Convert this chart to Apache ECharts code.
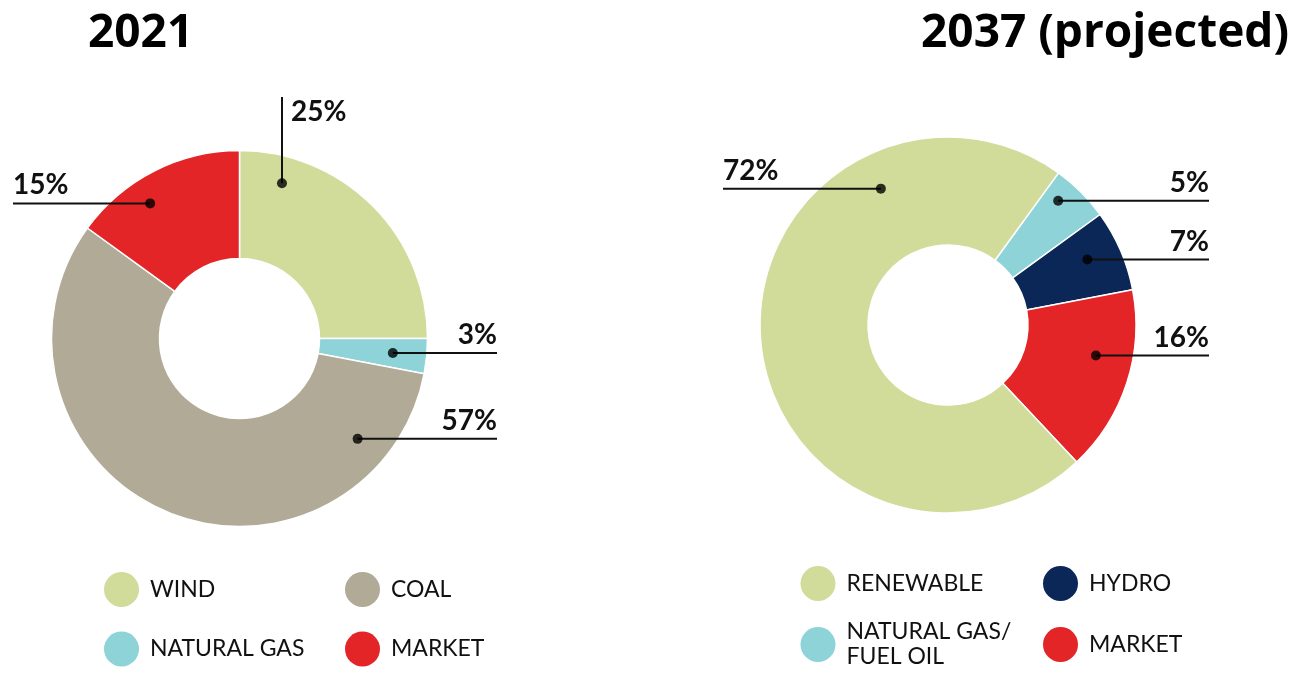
<!DOCTYPE html>
<html>
<head>
<meta charset="utf-8">
<script src="https://cdn.jsdelivr.net/npm/echarts@6/dist/echarts.min.js"></script>
<style>
html, body { margin: 0; padding: 0; background: #fff; }
#charts { width: 1293px; height: 685px; }
</style>
</head>
<body>
<div id="charts"></div>
<script>
// data
const names2021 = ['WIND', 'NATURAL GAS', 'COAL', 'MARKET']
const values2021 = [25, 3, 57, 15]
const names2037 = ['NATURAL GAS/\nFUEL OIL', 'HYDRO', 'MARKET', 'RENEWABLE']
const values2037 = [5, 7, 16, 72]
const titles = ['2021', '2037 (projected)']

const colors = {
	'WIND': '#d1dc9b',
	'RENEWABLE': '#d1dc9b',
	'COAL': '#b1aa97',
	'NATURAL GAS': '#8dd3d7',
	'NATURAL GAS/\nFUEL OIL': '#8dd3d7',
	'MARKET': '#e32527',
	'HYDRO': '#0b2757'
}

const OUTER = 188
const INNER = 80
const numFont = 'Lato'
const legendFont = 'Lato'

// where the dot sits inside each slice (share of the slice, radius) and where its line ends
const pies = [
	{
		names: names2021,
		values: values2021,
		center: [239.5, 338.5],
		startAngle: 90,
		leaders: [
			{ frac: 0.17, r: 161, endY: 97 },
			{ frac: 0.5, r: 154, endX: 497 },
			{ frac: 0.144, r: 155, endX: 497 },
			{ frac: 0.38, r: 162, endX: 13 }
		]
	},
	{
		names: names2037,
		values: values2037,
		center: [948, 325],
		startAngle: 54,
		leaders: [
			{ frac: 0.31, r: 166, endX: 1209 },
			{ frac: 0.43, r: 154, endX: 1209 },
			{ frac: 0.39, r: 151, endX: 1209 },
			{ frac: 0.76, r: 152, endX: 723 }
		]
	}
]

// legend icon centres
const legendSpots = [
	{ name: 'WIND', c: [121.5, 589.5] },
	{ name: 'COAL', c: [362.5, 589.5] },
	{ name: 'NATURAL GAS', c: [121.5, 649] },
	{ name: 'MARKET', c: [362.5, 649] },
	{ name: 'RENEWABLE', c: [818, 583.5] },
	{ name: 'HYDRO', c: [1060.5, 583.5] },
	{ name: 'NATURAL GAS/\nFUEL OIL', c: [818, 644.5] },
	{ name: 'MARKET', c: [1060.5, 644.5] }
]

const dotAngle = (p, i) => {
	let cum = 0
	for (let k = 0; k < i; k++) cum += p.values[k]
	return cum + p.leaders[i].frac * p.values[i]
}

const dotPixel = (p, i) => {
	const deg = (90 - p.startAngle) + dotAngle(p, i) * 3.6
	const rad = deg * Math.PI / 180
	const r = p.leaders[i].r
	return [p.center[0] + r * Math.sin(rad), p.center[1] - r * Math.cos(rad)]
}

const makeLayout = p => params => {
	const i = params.dataIndex
	const L = p.leaders[i]
	const [dx, dy] = dotPixel(p, i)
	if (L.endY != null) {
		return {
			x: dx + 9,
			y: L.endY + 1,
			align: 'left',
			verticalAlign: 'top',
			labelLinePoints: [[dx, dy], [dx, L.endY], [dx, L.endY]]
		}
	}
	const toRight = L.endX > dx
	return {
		x: L.endX,
		y: dy - 4,
		align: toRight ? 'right' : 'left',
		verticalAlign: 'bottom',
		labelLinePoints: [[dx, dy], [L.endX, dy], [L.endX, dy]]
	}
}

const chart = echarts.init(document.getElementById('charts'))

// coloured rings
const pieSeries = pies.map(p => ({
	type: 'pie',
	center: p.center,
	radius: [INNER, OUTER],
	startAngle: p.startAngle,
	clockwise: true,
	animation: false,
	z: 2,
	emphasis: { disabled: true },
	itemStyle: { borderColor: '#fff', borderWidth: 1.5 },
	label: { show: false },
	labelLine: { show: false },
	data: p.names.map((n, i) => ({ name: n, value: p.values[i], itemStyle: { color: colors[n] } }))
}))

// same rings, see-through, on top: carries the labels so the leader lines sit over the colour
const labelSeries = pies.map(p => ({
	type: 'pie',
	center: p.center,
	radius: [INNER, OUTER],
	startAngle: p.startAngle,
	clockwise: true,
	avoidLabelOverlap: false,
	animation: false,
	silent: true,
	z: 4,
	emphasis: { disabled: true },
	itemStyle: { color: 'rgba(0,0,0,0)', borderWidth: 0 },
	label: {
		show: true,
		position: 'outside',
		formatter: '{c}%',
		fontFamily: numFont,
		fontWeight: 'bold',
		fontSize: 28,
		color: '#111'
	},
	labelLine: { show: true, lineStyle: { color: '#111', width: 2 } },
	labelLayout: makeLayout(p),
	data: p.names.map((n, i) => ({ name: n, value: p.values[i] }))
}))

const dotSeries = pies.map((p, k) => ({
	type: 'scatter',
	coordinateSystem: 'polar',
	polarIndex: k,
	symbol: 'circle',
	symbolSize: 10,
	z: 5,
	animation: false,
	silent: true,
	itemStyle: { color: '#000' },
	data: p.values.map((v, i) => [p.leaders[i].r, dotAngle(p, i)])
}))

const legends = legendSpots.map(s => {
	const twoLines = s.name.indexOf('\n') >= 0
	return {
		data: [s.name],
		left: s.c[0] - 17.5,
		top: s.c[1] - 17.5 - (twoLines ? 20 : 0),
		padding: 0,
		icon: 'circle',
		itemWidth: 35,
		itemHeight: 35,
		selectedMode: false,
		itemStyle: { borderWidth: 0 },
		textStyle: {
			fontFamily: legendFont,
			fontSize: 23,
			color: '#111',
			lineHeight: 25,
			padding: twoLines ? [25, 0, 0, 6] : [0, 0, 0, 6]
		}
	}
})

chart.setOption({
	backgroundColor: '#fff',
	animation: false,
	title: [
		{
			text: titles[0],
			left: 88,
			top: 11,
			padding: 0,
			textStyle: { fontFamily: 'Open Sans', fontWeight: 'bold', fontSize: 46, color: '#000' }
		},
		{
			text: titles[1],
			right: 4,
			top: 11,
			padding: 0,
			textStyle: { fontFamily: 'Open Sans', fontWeight: 'bold', fontSize: 46, color: '#000' }
		}
	],
	legend: legends,
	polar: pies.map(p => ({ center: p.center, radius: OUTER })),
	angleAxis: pies.map((p, k) => ({
		polarIndex: k,
		type: 'value',
		min: 0,
		max: 100,
		startAngle: p.startAngle,
		clockwise: true,
		show: false
	})),
	radiusAxis: pies.map((p, k) => ({
		polarIndex: k,
		type: 'value',
		min: 0,
		max: OUTER,
		show: false
	})),
	series: [...pieSeries, ...labelSeries, ...dotSeries]
})
</script>
</body>
</html>
